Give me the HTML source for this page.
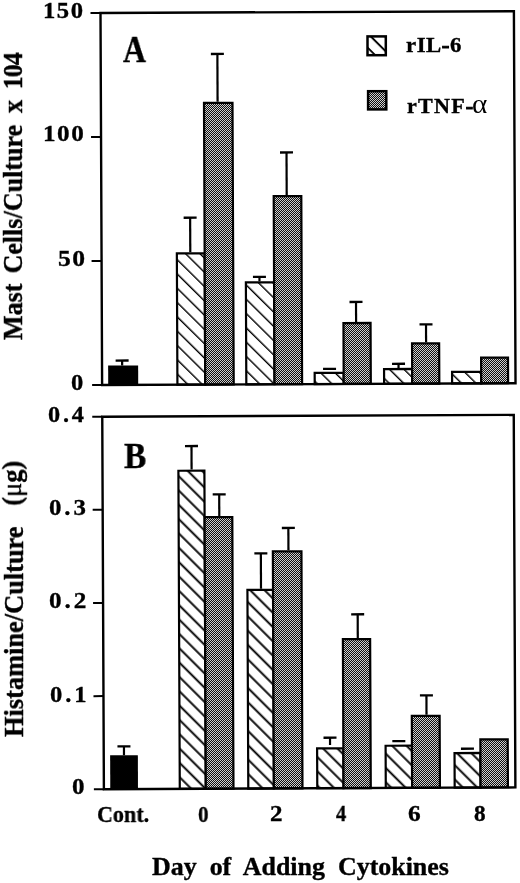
<!DOCTYPE html>
<html><head><meta charset="utf-8"><title>Figure</title>
<style>
html,body{margin:0;padding:0;background:#fff;}
body{width:520px;height:883px;overflow:hidden;position:relative;font-family:"Liberation Serif",serif;font-weight:bold;color:#000;}
svg{position:absolute;left:0;top:0;}
.t{position:absolute;white-space:pre;line-height:1;font-size:24px;transform-origin:0 0;-webkit-text-stroke:0.35px #000;will-change:transform;}
</style></head><body>
<svg width="520" height="883" viewBox="0 0 520 883">
<defs>
<pattern id="dots" width="2" height="2" patternUnits="userSpaceOnUse">
<rect width="2" height="2" fill="#101010"/><rect x="0" y="0" width="1" height="1" fill="#cfcfcf"/><rect x="1" y="1" width="1" height="1" fill="#cfcfcf"/>
</pattern>
<pattern id="hatch" width="10.13" height="10.13" patternUnits="userSpaceOnUse" patternTransform="rotate(44.86)">
<rect width="10.13" height="10.13" fill="#fff"/><rect x="0" y="7.9" width="10.13" height="1.9" fill="#000"/>
</pattern>
<pattern id="hatchA" width="10.167" height="10.167" patternUnits="userSpaceOnUse" patternTransform="rotate(44.64)">
<rect width="10.167" height="10.167" fill="#fff"/><rect x="0" y="8.75" width="10.167" height="1.9" fill="#000"/>
</pattern>
<pattern id="hatch2" width="10.13" height="10.13" patternUnits="userSpaceOnUse" patternTransform="rotate(44.86)">
<rect width="10.13" height="10.13" fill="#fff"/><rect x="0" y="6.5" width="10.13" height="1.9" fill="#000"/>
</pattern>
</defs>
<line x1="115.62" y1="360.54" x2="128.62" y2="360.48" stroke="#000" stroke-width="2.3"/>
<line x1="122.12" y1="360.51" x2="122.14" y2="365.51" stroke="#000" stroke-width="2.2"/>
<polygon points="108.14,365.57 138.14,365.44 138.22,384.84 108.22,384.97" fill="#000"/>
<line x1="183.64" y1="217.74" x2="196.64" y2="217.68" stroke="#000" stroke-width="2.3"/>
<line x1="190.14" y1="217.71" x2="190.29" y2="252.21" stroke="#000" stroke-width="2.2"/>
<line x1="210.88" y1="54.02" x2="223.88" y2="53.96" stroke="#000" stroke-width="2.3"/>
<line x1="217.38" y1="53.99" x2="217.59" y2="101.79" stroke="#000" stroke-width="2.2"/>
<polygon points="176.85,253.37 204.65,253.25 205.22,384.55 177.42,384.67" fill="url(#hatchA)" stroke="#000" stroke-width="2.2"/>
<polygon points="203.99,102.95 232.49,102.82 233.72,384.42 205.22,384.55" fill="url(#dots)" stroke="#000" stroke-width="2.2"/>
<line x1="252.95" y1="276.84" x2="265.95" y2="276.78" stroke="#000" stroke-width="2.3"/>
<line x1="259.45" y1="276.81" x2="259.47" y2="281.21" stroke="#000" stroke-width="2.2"/>
<line x1="280.01" y1="152.52" x2="293.01" y2="152.46" stroke="#000" stroke-width="2.3"/>
<line x1="286.51" y1="152.49" x2="286.70" y2="194.99" stroke="#000" stroke-width="2.2"/>
<polygon points="245.88,282.37 274.08,282.25 274.52,384.24 246.32,384.37" fill="url(#hatchA)" stroke="#000" stroke-width="2.2"/>
<polygon points="273.70,196.15 301.30,196.03 302.12,384.12 274.52,384.24" fill="url(#dots)" stroke="#000" stroke-width="2.2"/>
<line x1="323.05" y1="368.83" x2="336.05" y2="368.78" stroke="#000" stroke-width="2.3"/>
<line x1="349.51" y1="302.02" x2="362.51" y2="301.96" stroke="#000" stroke-width="2.3"/>
<line x1="356.01" y1="301.99" x2="356.10" y2="321.89" stroke="#000" stroke-width="2.2"/>
<polygon points="314.67,372.97 343.67,372.84 343.72,383.94 314.72,384.07" fill="url(#hatchA)" stroke="#000" stroke-width="2.2"/>
<polygon points="343.46,323.04 370.55,322.92 370.82,383.82 343.72,383.94" fill="url(#dots)" stroke="#000" stroke-width="2.2"/>
<line x1="392.03" y1="363.83" x2="405.03" y2="363.77" stroke="#000" stroke-width="2.3"/>
<line x1="398.53" y1="363.80" x2="398.55" y2="367.90" stroke="#000" stroke-width="2.2"/>
<line x1="419.51" y1="324.41" x2="432.51" y2="324.35" stroke="#000" stroke-width="2.3"/>
<line x1="426.01" y1="324.38" x2="426.09" y2="342.18" stroke="#000" stroke-width="2.2"/>
<polygon points="384.06,369.07 412.16,368.94 412.22,383.64 384.12,383.77" fill="url(#hatchA)" stroke="#000" stroke-width="2.2"/>
<polygon points="412.04,343.34 439.14,343.23 439.32,383.53 412.22,383.64" fill="url(#dots)" stroke="#000" stroke-width="2.2"/>
<polygon points="452.07,371.97 481.17,371.84 481.22,383.34 452.12,383.47" fill="url(#hatchA)" stroke="#000" stroke-width="2.2"/>
<polygon points="481.11,357.64 508.01,357.53 508.12,383.22 481.22,383.34" fill="url(#dots)" stroke="#000" stroke-width="2.2"/>
<polygon points="100.50,13.00 513.90,11.20 515.52,383.19 102.12,385.00" fill="none" stroke="#000" stroke-width="2.4"/>
<line x1="90.50" y1="13.04" x2="100.50" y2="13.00" stroke="#000" stroke-width="2.0"/>
<line x1="91.04" y1="137.04" x2="101.04" y2="137.00" stroke="#000" stroke-width="2.0"/>
<line x1="91.58" y1="261.04" x2="101.58" y2="261.00" stroke="#000" stroke-width="2.0"/>
<line x1="92.12" y1="385.04" x2="102.12" y2="385.00" stroke="#000" stroke-width="2.0"/>
<line x1="117.45" y1="746.33" x2="130.45" y2="746.28" stroke="#000" stroke-width="2.3"/>
<line x1="123.95" y1="746.30" x2="123.99" y2="755.30" stroke="#000" stroke-width="2.2"/>
<polygon points="110.14,755.37 137.84,755.24 137.99,789.04 110.29,789.16" fill="#000"/>
<line x1="184.99" y1="446.04" x2="197.99" y2="445.98" stroke="#000" stroke-width="2.3"/>
<line x1="191.49" y1="446.01" x2="191.59" y2="469.61" stroke="#000" stroke-width="2.2"/>
<line x1="212.70" y1="494.42" x2="225.70" y2="494.36" stroke="#000" stroke-width="2.3"/>
<line x1="219.20" y1="494.39" x2="219.30" y2="515.99" stroke="#000" stroke-width="2.2"/>
<polygon points="178.40,470.76 204.40,470.65 205.79,788.75 179.79,788.86" fill="url(#hatch)" stroke="#000" stroke-width="2.2"/>
<polygon points="204.60,517.15 232.30,517.03 233.49,788.63 205.79,788.75" fill="url(#dots)" stroke="#000" stroke-width="2.2"/>
<line x1="254.36" y1="553.33" x2="267.36" y2="553.28" stroke="#000" stroke-width="2.3"/>
<line x1="260.86" y1="553.31" x2="261.01" y2="588.81" stroke="#000" stroke-width="2.2"/>
<line x1="281.85" y1="528.01" x2="294.85" y2="527.96" stroke="#000" stroke-width="2.3"/>
<line x1="288.35" y1="527.99" x2="288.45" y2="550.19" stroke="#000" stroke-width="2.2"/>
<polygon points="247.42,589.96 273.02,589.85 273.89,788.45 248.29,788.56" fill="url(#hatch)" stroke="#000" stroke-width="2.2"/>
<polygon points="272.85,551.35 301.45,551.23 302.48,788.33 273.89,788.45" fill="url(#dots)" stroke="#000" stroke-width="2.2"/>
<line x1="323.51" y1="737.73" x2="336.51" y2="737.68" stroke="#000" stroke-width="2.3"/>
<line x1="330.01" y1="737.71" x2="330.05" y2="745.01" stroke="#000" stroke-width="2.2"/>
<line x1="351.18" y1="614.31" x2="364.18" y2="614.26" stroke="#000" stroke-width="2.3"/>
<line x1="357.68" y1="614.28" x2="357.78" y2="637.98" stroke="#000" stroke-width="2.2"/>
<polygon points="317.11,748.36 343.36,748.25 343.53,788.15 317.28,788.26" fill="url(#hatch)" stroke="#000" stroke-width="2.2"/>
<polygon points="342.88,639.15 370.13,639.03 370.78,788.03 343.53,788.15" fill="url(#dots)" stroke="#000" stroke-width="2.2"/>
<line x1="392.33" y1="741.13" x2="405.33" y2="741.08" stroke="#000" stroke-width="2.3"/>
<line x1="419.93" y1="695.41" x2="432.93" y2="695.36" stroke="#000" stroke-width="2.3"/>
<line x1="426.43" y1="695.38" x2="426.52" y2="714.78" stroke="#000" stroke-width="2.2"/>
<polygon points="385.60,745.76 411.95,745.65 412.13,787.85 385.78,787.96" fill="url(#hatch)" stroke="#000" stroke-width="2.2"/>
<polygon points="411.82,715.95 439.62,715.83 439.93,787.73 412.13,787.85" fill="url(#dots)" stroke="#000" stroke-width="2.2"/>
<line x1="460.96" y1="748.73" x2="473.96" y2="748.68" stroke="#000" stroke-width="2.3"/>
<polygon points="454.53,753.06 480.43,752.95 480.58,787.55 454.68,787.66" fill="url(#hatch)" stroke="#000" stroke-width="2.2"/>
<polygon points="480.37,739.45 507.72,739.33 507.93,787.43 480.58,787.55" fill="url(#dots)" stroke="#000" stroke-width="2.2"/>
<polygon points="102.26,416.70 513.76,414.90 515.38,787.40 103.89,789.19" fill="none" stroke="#000" stroke-width="2.4"/>
<line x1="92.26" y1="416.74" x2="102.26" y2="416.70" stroke="#000" stroke-width="2.0"/>
<line x1="92.67" y1="509.84" x2="102.67" y2="509.80" stroke="#000" stroke-width="2.0"/>
<line x1="93.07" y1="603.04" x2="103.07" y2="602.99" stroke="#000" stroke-width="2.0"/>
<line x1="93.48" y1="696.14" x2="103.48" y2="696.09" stroke="#000" stroke-width="2.0"/>
<line x1="93.89" y1="789.24" x2="103.89" y2="789.19" stroke="#000" stroke-width="2.0"/>
<rect x="367.5" y="36.4" width="18.3" height="18.8" fill="url(#hatch2)" stroke="#000" stroke-width="2.5"/>
<rect x="368.1" y="91.2" width="18.2" height="18.2" fill="url(#dots)" stroke="#000" stroke-width="2.5"/>
</svg>
<div class="t" style="left:43.4px;top:-1.8px;font-size:24px;letter-spacing:1.5px;transform:scaleX(1.026)">150</div>
<div class="t" style="left:43.05px;top:121.15px;font-size:24px;letter-spacing:1.5px;transform:scaleX(1.046)">100</div>
<div class="t" style="left:58.04px;top:245.92px;font-size:24px;letter-spacing:1.5px;transform:scaleX(1.064)">50</div>
<div class="t" style="left:71.09px;top:370.3px;font-size:24px;letter-spacing:0px;transform:scaleX(1.021)">0</div>
<div class="t" style="left:48.46px;top:401.58px;font-size:24px;letter-spacing:2.8px;transform:scaleX(1.011)">0.4</div>
<div class="t" style="left:48.95px;top:494.8px;font-size:24px;letter-spacing:2.8px;transform:scaleX(1.034)">0.3</div>
<div class="t" style="left:49.13px;top:588.0px;font-size:24px;letter-spacing:2.8px;transform:scaleX(1.048)">0.2</div>
<div class="t" style="left:49.75px;top:681.65px;font-size:24px;letter-spacing:2.8px;transform:scaleX(1.023)">0.1</div>
<div class="t" style="left:72.44px;top:773.65px;font-size:24px;letter-spacing:0px;transform:scaleX(1.042)">0</div>
<div class="t" style="left:122.52px;top:31.0px;font-size:37px;letter-spacing:0px;transform:scaleX(0.86)">A</div>
<div class="t" style="left:123.73px;top:439.05px;font-size:35.5px;letter-spacing:0px;transform:scaleX(0.942)">B</div>
<div class="t" style="left:406.22px;top:33.75px;font-size:22px;letter-spacing:0.5px;transform:scaleX(1.038)">rIL<span style="-webkit-text-stroke:1px #000">-</span>6</div>
<div class="t" style="left:406.67px;top:94.78px;font-size:22px;letter-spacing:1.2px;transform:scaleX(1.005)">rTNF<span style="-webkit-text-stroke:1px #000">-</span></div>
<div class="t" style="left:471.97px;top:90.65px;font-size:27px;letter-spacing:0px;transform:scaleX(1.081)"><span style="font-weight:normal;-webkit-text-stroke:0">α</span></div>
<div class="t" style="left:96.65px;top:802.62px;font-size:23px;letter-spacing:0px;transform:scaleX(0.961)">Cont.</div>
<div class="t" style="left:197.95px;top:802.62px;font-size:23px;letter-spacing:0px;transform:scaleX(0.916)">0</div>
<div class="t" style="left:269.53px;top:802.08px;font-size:23px;letter-spacing:0px;transform:scaleX(1.086)">2</div>
<div class="t" style="left:336.22px;top:802.08px;font-size:23px;letter-spacing:0px;transform:scaleX(0.881)">4</div>
<div class="t" style="left:407.9px;top:801.75px;font-size:23px;letter-spacing:0px;transform:scaleX(1.103)">6</div>
<div class="t" style="left:474.06px;top:801.75px;font-size:23px;letter-spacing:0px;transform:scaleX(1.01)">8</div>
<div class="t" style="left:152.28px;top:855.3px;font-size:24.8px;letter-spacing:0px;transform:scaleX(1.046)">Day  of  Adding  Cytokines</div>
<div class="t" style="left:0.37px;top:340.31px;font-size:27px;letter-spacing:0px;word-spacing:-1.55px;transform:rotate(-90deg) scaleX(0.965)">Mast  Cells/Culture  <span style="position:relative;left:2px">x</span>  <span style="letter-spacing:-1px;position:relative;left:2.6px">104</span></div>
<div class="t" style="left:1.22px;top:737.2px;font-size:27px;letter-spacing:0px;word-spacing:-1.45px;transform:rotate(-90deg) scaleX(0.977)">Histamine/Culture    <span style="position:relative;top:-1.8px">(<span style="font-weight:normal">μ</span>g)</span></div>
</body></html>
